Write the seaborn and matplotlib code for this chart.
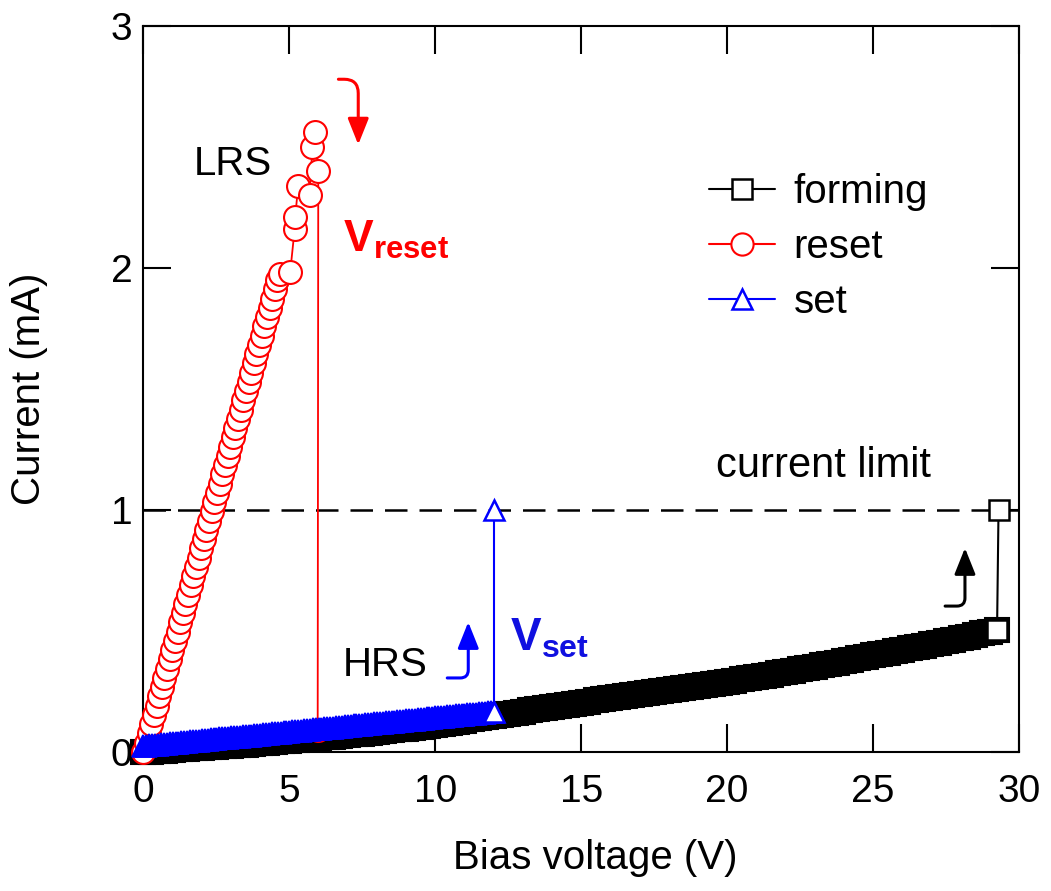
import matplotlib
matplotlib.use("Agg")
import matplotlib.pyplot as plt
import seaborn as sns
from matplotlib.lines import Line2D

# ---------------- data ----------------
forming_v = [0, 0.25, 0.5, 0.75, 1, 1.25, 1.5, 1.75, 2, 2.25, 2.5, 2.75, 3, 3.25, 3.5, 3.75,
             4, 4.25, 4.5, 4.75, 5, 5.25, 5.5, 5.75, 6, 6.25, 6.5, 6.75, 7, 7.25, 7.5, 7.75,
             8, 8.25, 8.5, 8.75, 9, 9.25, 9.5, 9.75, 10, 10.25, 10.5, 10.75, 11, 11.25, 11.5, 11.75,
             12, 12.25, 12.5, 12.75, 13, 13.25, 13.5, 13.75, 14, 14.25, 14.5, 14.75, 15, 15.25, 15.5, 15.75,
             16, 16.25, 16.5, 16.75, 17, 17.25, 17.5, 17.75, 18, 18.25, 18.5, 18.75, 19, 19.25, 19.5, 19.75,
             20, 20.25, 20.5, 20.75, 21, 21.25, 21.5, 21.75, 22, 22.25, 22.5, 22.75, 23, 23.25, 23.5, 23.75,
             24, 24.25, 24.5, 24.75, 25, 25.25, 25.5, 25.75, 26, 26.25, 26.5, 26.75, 27, 27.25, 27.5, 27.75,
             28, 28.25, 28.5, 28.75, 29, 29.25, 29.3]
forming_i = [0.000, 0.002, 0.004, 0.006, 0.008, 0.011, 0.013, 0.015, 0.017,
             0.019, 0.022, 0.024, 0.026, 0.029, 0.031, 0.034, 0.036,
             0.039, 0.041, 0.044, 0.046, 0.049, 0.052, 0.054, 0.057,
             0.060, 0.063, 0.066, 0.069, 0.073, 0.076, 0.079, 0.082,
             0.086, 0.089, 0.093, 0.097, 0.101, 0.104, 0.108, 0.112,
             0.117, 0.121, 0.126, 0.130, 0.135, 0.139, 0.144, 0.148,
             0.153, 0.158, 0.162, 0.167, 0.172, 0.177, 0.181, 0.186,
             0.190, 0.195, 0.199, 0.204, 0.208, 0.213, 0.217, 0.222,
             0.226, 0.231, 0.235, 0.239, 0.243, 0.248, 0.252, 0.256,
             0.260, 0.265, 0.269, 0.273, 0.277, 0.282, 0.286, 0.290,
             0.295, 0.300, 0.305, 0.310, 0.315, 0.320, 0.325, 0.330,
             0.336, 0.341, 0.347, 0.352, 0.358, 0.364, 0.369, 0.375,
             0.381, 0.387, 0.393, 0.399, 0.404, 0.410, 0.416, 0.422,
             0.428, 0.434, 0.440, 0.446, 0.452, 0.458, 0.464, 0.470,
             0.477, 0.484, 0.490, 0.497, 0.504,
             1.000]

reset_v = [0.00, 0.09, 0.18, 0.27, 0.36, 0.45, 0.54, 0.63, 0.72, 0.81,
           0.90, 0.99, 1.08, 1.17, 1.26, 1.35, 1.44, 1.53, 1.62, 1.71,
           1.80, 1.89, 1.98, 2.07, 2.16, 2.25, 2.34, 2.43, 2.52, 2.61,
           2.70, 2.79, 2.88, 2.97, 3.06, 3.15, 3.24, 3.33, 3.42, 3.51,
           3.60, 3.69, 3.78, 3.87, 3.96, 4.05, 4.14, 4.23, 4.32, 4.41,
           4.50, 4.59,
           4.69, 5.03, 5.18, 5.20, 5.30, 5.69, 5.79, 5.89, 5.99,
           5.97]
reset_i = [0.000, 0.038, 0.077, 0.115, 0.153, 0.191, 0.230, 0.268, 0.306, 0.344,
           0.383, 0.421, 0.459, 0.497, 0.536, 0.574, 0.612, 0.650, 0.689, 0.727,
           0.765, 0.803, 0.842, 0.880, 0.918, 0.956, 0.995, 1.033, 1.071, 1.109,
           1.148, 1.186, 1.224, 1.262, 1.301, 1.339, 1.377, 1.415, 1.454, 1.492,
           1.530, 1.568, 1.607, 1.645, 1.683, 1.721, 1.760, 1.798, 1.836, 1.874,
           1.913, 1.951,
           1.975, 1.985, 2.160, 2.210, 2.340, 2.300, 2.500, 2.560, 2.400,
           0.090]

set_v = [0.0, 0.1, 0.2, 0.3, 0.4, 0.5, 0.6, 0.7, 0.8, 0.9,
         1.0, 1.1, 1.2, 1.3, 1.4, 1.5, 1.6, 1.7, 1.8, 1.9,
         2.0, 2.1, 2.2, 2.3, 2.4, 2.5, 2.6, 2.7, 2.8, 2.9,
         3.0, 3.1, 3.2, 3.3, 3.4, 3.5, 3.6, 3.7, 3.8, 3.9,
         4.0, 4.1, 4.2, 4.3, 4.4, 4.5, 4.6, 4.7, 4.8, 4.9,
         5.0, 5.1, 5.2, 5.3, 5.4, 5.5, 5.6, 5.7, 5.8, 5.9,
         6.0, 6.1, 6.2, 6.3, 6.4, 6.5, 6.6, 6.7, 6.8, 6.9,
         7.0, 7.1, 7.2, 7.3, 7.4, 7.5, 7.6, 7.7, 7.8, 7.9,
         8.0, 8.1, 8.2, 8.3, 8.4, 8.5, 8.6, 8.7, 8.8, 8.9,
         9.0, 9.1, 9.2, 9.3, 9.4, 9.5, 9.6, 9.7, 9.8, 9.9,
         10.0, 10.1, 10.2, 10.3, 10.4, 10.5, 10.6, 10.7, 10.8, 10.9,
         11.0, 11.1, 11.2, 11.3, 11.4, 11.5, 11.6, 11.7, 11.8, 11.9,
         12.0, 12.0]
set_i = [0.025, 0.026, 0.027, 0.029, 0.030, 0.031, 0.032, 0.033, 0.034, 0.036,
         0.037, 0.038, 0.039, 0.040, 0.041, 0.043, 0.044, 0.045, 0.046, 0.047,
         0.049, 0.050, 0.051, 0.052, 0.053, 0.054, 0.056, 0.057, 0.058, 0.059,
         0.060, 0.061, 0.063, 0.064, 0.065, 0.066, 0.067, 0.068, 0.070, 0.071,
         0.072, 0.073, 0.074, 0.076, 0.077, 0.078, 0.079, 0.080, 0.081, 0.083,
         0.084, 0.085, 0.086, 0.087, 0.088, 0.090, 0.091, 0.092, 0.093, 0.094,
         0.096, 0.097, 0.098, 0.099, 0.100, 0.101, 0.103, 0.104, 0.105, 0.106,
         0.107, 0.108, 0.110, 0.111, 0.112, 0.113, 0.114, 0.115, 0.117, 0.118,
         0.119, 0.120, 0.121, 0.123, 0.124, 0.125, 0.126, 0.127, 0.128, 0.130,
         0.131, 0.132, 0.133, 0.134, 0.135, 0.137, 0.138, 0.139, 0.140, 0.141,
         0.143, 0.144, 0.145, 0.146, 0.147, 0.148, 0.150, 0.151, 0.152, 0.153,
         0.154, 0.155, 0.157, 0.158, 0.159, 0.160, 0.161, 0.162, 0.164, 0.165,
         0.166, 1.000]

current_limit = 1.0
series_labels = ["forming", "reset", "set"]
x_ticks = [0, 5, 10, 15, 20, 25, 30]
y_ticks = [0, 1, 2, 3]

# ---------------- style ----------------
sns.set_theme(style="ticks")
FONT = "Liberation Sans"
plt.rcParams["font.family"] = [FONT, "DejaVu Sans"]
plt.rcParams["mathtext.fontset"] = "custom"
plt.rcParams["mathtext.rm"] = FONT
plt.rcParams["mathtext.bf"] = FONT + ":bold"
plt.rcParams["axes.linewidth"] = 1.5
plt.rcParams["axes.edgecolor"] = "black"
plt.rcParams["text.color"] = "black"
plt.rcParams["axes.labelcolor"] = "black"
plt.rcParams["xtick.color"] = "black"
plt.rcParams["ytick.color"] = "black"

RED = "#ff0000"
BLUE = "#0000ff"
FS = 29

fig = plt.figure(figsize=(10.51, 8.91), dpi=100)
ax = fig.add_axes([0.1365, 0.156, 0.833, 0.8148])

common = dict(sort=False, estimator=None, ax=ax, legend=False)

# forming sweep (dense -> appears as a black band)
sns.lineplot(x=forming_v[:-1], y=forming_i[:-1], color="black", linewidth=1.5,
             marker="s", markersize=17, markerfacecolor="black",
             markeredgecolor="black", markeredgewidth=1.5, clip_on=False,
             zorder=3, **common)
# forming jump to the compliance
sns.lineplot(x=forming_v[-2:], y=forming_i[-2:], color="black", linewidth=1.5,
             marker="s", markersize=15, markerfacecolor="white",
             markeredgecolor="black", markeredgewidth=1.8, clip_on=False,
             zorder=3.1, **common)
# reset
sns.lineplot(x=reset_v, y=reset_i, color=RED, linewidth=1.3,
             marker="o", markersize=16.5, markerfacecolor="white",
             markeredgecolor=RED, markeredgewidth=1.5, clip_on=False,
             zorder=4, **common)
# set sweep
sns.lineplot(x=set_v[:-1], y=set_i[:-1], color=BLUE, linewidth=1.5,
             marker="^", markersize=16, markerfacecolor=BLUE,
             markeredgecolor=BLUE, markeredgewidth=1.2, clip_on=False,
             zorder=5, **common)
# set jump
sns.lineplot(x=set_v[-2:], y=set_i[-2:], color=BLUE, linewidth=1.5,
             marker="^", markersize=14.5, markerfacecolor="white",
             markeredgecolor=BLUE, markeredgewidth=1.8, clip_on=False,
             zorder=5.1, **common)

# current limit
ax.axhline(current_limit, color="black", lw=1.8, ls=(0, (9, 4.8)), zorder=1)

# axes
ax.set_xlim(x_ticks[0], x_ticks[-1])
ax.set_ylim(y_ticks[0], y_ticks[-1])
ax.set_xticks(x_ticks)
ax.set_yticks(y_ticks)
ax.set_xticklabels([str(t) for t in x_ticks])
ax.set_yticklabels([str(t) for t in y_ticks])
ax.tick_params(direction="in", length=20, width=1.5, top=True, right=True,
               labelsize=28, colors="black")
ax.tick_params(axis="x", pad=16)
ax.tick_params(axis="y", pad=8)
for s in ax.spines.values():
    s.set_linewidth(1.5)
    s.set_color("black")

ax.set_xlabel("Bias voltage (V)", fontsize=FS, color="black")
ax.set_ylabel("Current (mA)", fontsize=FS, color="black")
ax.xaxis.set_label_coords(0.516, -0.12)
ax.yaxis.set_label_coords(-0.109, 0.5)

# annotations
ax.text(3.05, 2.43, "LRS", fontsize=FS, ha="center", va="center", color="black")
ax.text(8.29, 0.36, "HRS", fontsize=FS, ha="center", va="center", color="black")
ax.text(23.3, 1.136, "current limit", fontsize=30, ha="center", va="baseline", color="black")
ax.text(6.85, 2.066, r"$\mathbf{V}_{\mathbf{reset}}$", fontsize=32, color=RED,
        ha="left", va="baseline")
ax.text(12.57, 0.42, r"$\mathbf{V}_{\mathbf{set}}$", fontsize=33, color="#1010e0",
        ha="left", va="baseline")

arrow_kw = dict(arrowstyle="-|>,head_length=0.8,head_width=0.32", lw=2.2,
                shrinkA=0, shrinkB=0, mutation_scale=20)
ax.annotate("", xy=(7.36, 2.51), xytext=(6.68, 2.78),
            arrowprops=dict(color=RED, connectionstyle="angle,angleA=0,angleB=90,rad=14", **arrow_kw))
ax.annotate("", xy=(11.13, 0.537), xytext=(10.41, 0.306),
            arrowprops=dict(color=BLUE, connectionstyle="angle,angleA=0,angleB=90,rad=8", **arrow_kw))
ax.annotate("", xy=(28.15, 0.843), xytext=(27.47, 0.603),
            arrowprops=dict(color="black", connectionstyle="angle,angleA=0,angleB=90,rad=8", **arrow_kw))

# legend
handles = [
    Line2D([], [], color="black", lw=1.5, marker="s", ms=15, mfc="white", mec="black", mew=1.8),
    Line2D([], [], color=RED, lw=1.5, marker="o", ms=16, mfc="white", mec=RED, mew=1.5),
    Line2D([], [], color=BLUE, lw=1.5, marker="^", ms=14.5, mfc="white", mec=BLUE, mew=1.8),
]
leg = ax.legend(handles, series_labels, loc="upper left", bbox_to_anchor=(0.646, 0.797),
                frameon=False, fontsize=FS, handlelength=1.65, handletextpad=0.45,
                labelspacing=0.42, borderpad=0, borderaxespad=0)
for t in leg.get_texts():
    t.set_color("black")

fig.savefig("out.png", dpi=100)
